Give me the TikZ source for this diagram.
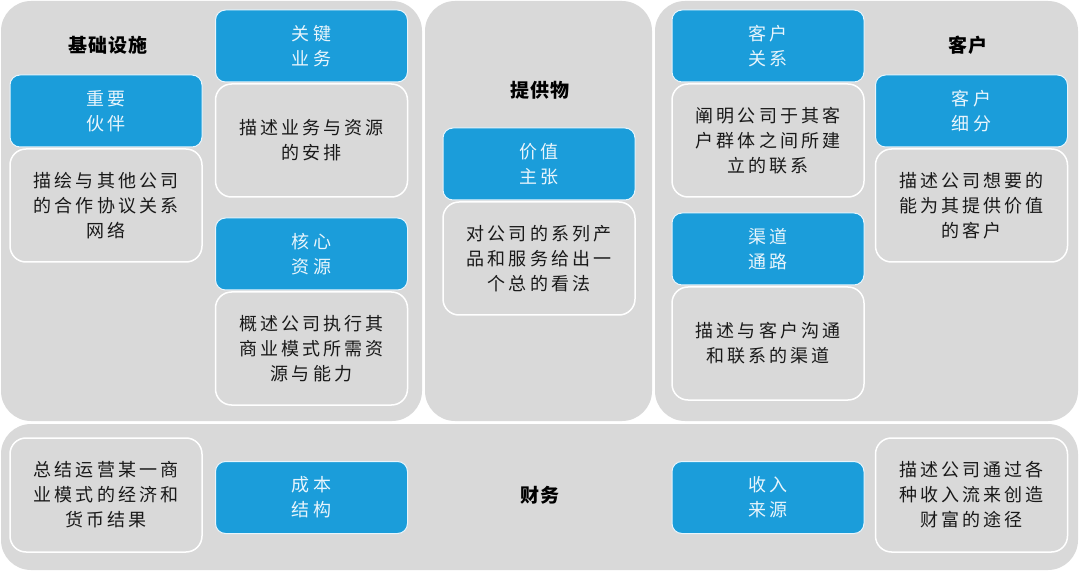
\documentclass[tikz,border=0pt]{standalone}
\usepackage{fontspec}
\newfontfamily\cjk[LetterSpace=17]{Noto Sans CJK SC}
\newfontfamily\cjkhd[LetterSpace=6]{Noto Sans CJK SC}
\usepackage{tikz}
\usetikzlibrary{positioning}
\definecolor{cvblue}{RGB}{27,157,218}
\definecolor{cvgray}{RGB}{217,217,217}
\definecolor{cvlight}{RGB}{232,245,252}

\begin{document}
\begin{tikzpicture}[x=1pt,y=-1pt]

\useasboundingbox (0,0) rectangle (1080,572);

\tikzstyle{panel}=[fill=cvgray,draw=none,rounded corners=30pt]
\tikzstyle{head}=[rectangle,rounded corners=10pt,fill=cvblue,draw=cvlight,line width=1pt,minimum width=192pt,minimum height=72pt,inner sep=0pt,align=center,text=cvlight,font=\cjk\fontsize{18}{25}\selectfont]
\tikzstyle{desc}=[rectangle,rounded corners=16pt,fill=cvgray,draw=white,line width=1.5pt,minimum width=192pt,minimum height=113pt,inner sep=0pt,align=center,text=black!90,font=\cjk\fontsize{18}{25}\selectfont]
\tikzstyle{title}=[font=\cjkhd\bfseries\fontsize{19}{25}\selectfont]

% four grey blocks
\draw[panel] (1,1) rectangle (422,421);
\draw[panel] (425,1) rectangle (652,421);
\draw[panel] (655,1) rectangle (1078,421);
\draw[panel] (1,424) rectangle (1078,570);

\node (infra) at (108,45) [title] {基础设施};
\node (offer) at (540,90) [title] {提供物};
\node (cust) at (968,45) [title] {客户};
\node (fin) at (540,495) [title] {财务};

\node (partner) at (106,111) [head] {重要\\伙伴};
\node [node distance=94.5pt,below of=partner,desc] {描绘与其他公司\\的合作协议关系\\网络};

\node (activ) at (311.5,46) [head] {关键\\业务};
\node [node distance=94.5pt,below of=activ,desc] {描述业务与资源\\的安排};

\node (resour) at (311.5,254) [head] {核心\\资源};
\node [node distance=94.5pt,below of=resour,desc] {概述公司执行其\\商业模式所需资\\源与能力};

\node (value) at (539,164) [head] {价值\\主张};
\node [node distance=94.5pt,below of=value,desc] {对公司的系列产\\品和服务给出一\\个总的看法};

\node (relat) at (768,46) [head] {客户\\关系};
\node [node distance=94.5pt,below of=relat,desc] {阐明公司于其客\\户群体之间所建\\立的联系};

\node (chan) at (768,249) [head] {渠道\\通路};
\node [node distance=94.5pt,below of=chan,desc] {描述与客户沟通\\和联系的渠道};

\node (segm) at (971.5,111) [head] {客户\\细分};
\node [node distance=94.5pt,below of=segm,desc] {描述公司想要的\\能为其提供价值\\的客户};

\node (cost) at (311.5,497.5) [head] {成本\\结构};
\node (costd) at (106,495) [desc,minimum height=114pt] {总结运营某一商\\业模式的经济和\\货币结果};

\node (rev) at (768,497.5) [head] {收入\\来源};
\node (revd) at (971.5,495) [desc,minimum height=114pt] {描述公司通过各\\种收入流来创造\\财富的途径};

\end{tikzpicture}
\end{document}
